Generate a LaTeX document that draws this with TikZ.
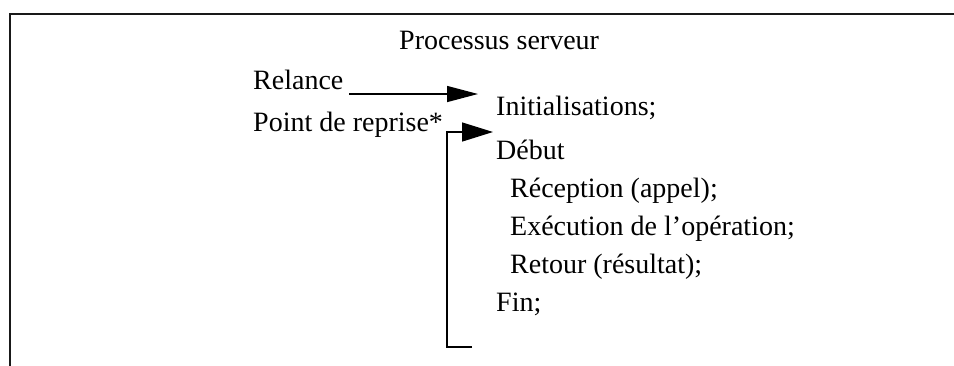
\documentclass[tikz,border=0pt]{standalone}
\usepackage{fontspec}
\setmainfont{Liberation Serif}
\usetikzlibrary{arrows.meta}
\begin{document}
\begin{tikzpicture}[x=1pt,y=-1pt,
  txt/.style={inner sep=0pt,anchor=base west,font=\fontsize{28}{33}\selectfont},
  frameline/.style={line width=2pt,draw=black!90},
  flow/.style={line width=1.4pt,-{Triangle[length=31pt,width=16pt]}},
  flowwide/.style={line width=1.4pt,-{Triangle[length=31pt,width=19pt]}}]
\useasboundingbox (0,0) rectangle (954,365);

% open frame: only top and left edges fall inside the page
\draw[frameline] (960,14) -- (9.5,14) -- (9.5,370);

% labels
\node[txt] (title) at (399,49) {Processus serveur};
\node[txt] (relance) at (253,89) {Relance};
\node[txt] (reprise) at (253,131) {Point de reprise*};
\node[txt] (init) at (496,115) {Initialisations;};
\node[txt] (debut) at (496,159) {Début};
\node[txt] (recep) at (510,197) {Réception (appel);};
\node[txt] (exec) at (510,235) {Exécution de l’opération;};
\node[txt] (retour) at (510,273) {Retour (résultat);};
\node[txt] (fin) at (496,311) {Fin;};

% connector end points
\coordinate (relA) at (349,94);
\coordinate (relB) at (478,94);
\coordinate (loopEnd) at (472,347);
\coordinate (loopCorner) at (447,347);
\coordinate (loopTop) at (447,132);
\coordinate (repB) at (493,132);

\draw[flow] (relA) -- (relB);
\draw[flowwide] (loopEnd) -- (loopCorner) -- (loopTop) -- (repB);
\end{tikzpicture}
\end{document}
